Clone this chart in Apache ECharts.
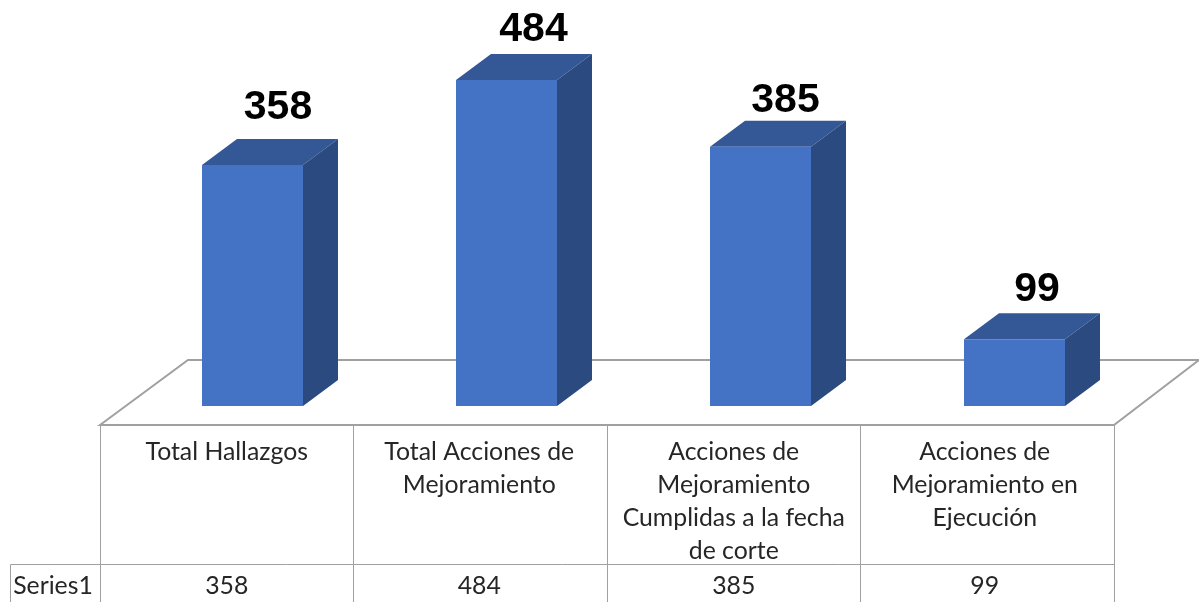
<!DOCTYPE html>
<html>
<head>
<meta charset="utf-8">
<style>html,body{margin:0;padding:0;background:#fff}#c{width:1199px;height:602px}</style>
<script src="https://cdn.jsdelivr.net/npm/echarts@6/dist/echarts.min.js"></script>
</head>
<body>
<div id="c"></div>
<script>
const categories = [
  "Total Hallazgos",
  "Total Acciones de\nMejoramiento",
  "Acciones de\nMejoramiento\nCumplidas a la fecha\nde corte",
  "Acciones de\nMejoramiento en\nEjecución"
];
const seriesName = "Series1";
const values = [358, 484, 385, 99];
const labelLift = [31.5, 24.5, 20.5, 23.5];
const labelShift = [25.5, 27, 25, 22.5];
const cellShift = [0, -1, 0, -2.5];

const TABLE_LEFT = 100, BAND = 253.5, DEPTH_X = 35, DEPTH_Y = 26, HALF_BAR = 50.5;
const FONT = 'Lato, Carlito, "Noto Sans", sans-serif';
const LINE = '#a0a0a0', TEXT = '#262626';
const FRONT = '#4472c4', SIDE = '#2b4a80', TOP = '#345796';

const chart = echarts.init(document.getElementById('c'), null, {renderer: 'canvas'});

const line = (x1, y1, x2, y2, w) => ({
  type: 'line', silent: true, z: 1,
  shape: {x1, y1, x2, y2},
  style: {stroke: LINE, lineWidth: w || 1}
});
const label = (text, x, y, lh) => ({
  type: 'text', silent: true, z: 3, x, y,
  style: {text, fill: TEXT, font: '24.8px ' + FONT, align: 'center', verticalAlign: 'top', lineHeight: lh || 33, textAlign: 'center'}
});

const graphics = [{
  type: 'polygon', silent: true, z: 0,
  shape: {points: [[100, 425], [188, 360], [1199, 360], [1114, 425]]},
  style: {fill: '#fff', stroke: LINE, lineWidth: 2}
}];
for (let i = 0; i <= categories.length; i++) {
  const x = Math.floor(TABLE_LEFT + i * BAND) + 0.5;
  graphics.push(line(x, 425, x, 602));
}
graphics.push(line(10.5, 564.5, 1114, 564.5));
graphics.push(line(10.5, 564.5, 10.5, 602));
graphics.push(line(100, 425, 1114, 425, 2));
graphics.push(label(seriesName, 53, 570));
categories.forEach((c, i) => {
  const cx = TABLE_LEFT + (i + 0.5) * BAND + cellShift[i];
  graphics.push(label(c, cx, 436));
  graphics.push(label(String(values[i]), cx, 570));
});

chart.setOption({
  animation: false,
  backgroundColor: '#fff',
  grid: {left: 125.5, width: 1016, top: 2, height: 404},
  xAxis: {type: 'category', data: categories, show: false},
  yAxis: {type: 'value', min: 0, max: 600, interval: 100, show: false},
  graphic: graphics,
  series: [{
    type: 'custom',
    name: seriesName,
    data: values.map((v, i) => [i, v]),
    encode: {x: 0, y: 1},
    clip: false,
    renderItem(params, api) {
      const i = api.value(0);
      const base = api.coord([i, 0]);
      const top = api.coord([i, api.value(1)]);
      const xl = base[0] - HALF_BAR, xr = base[0] + HALF_BAR;
      const yb = base[1], yt = top[1];
      return {
        type: 'group',
        children: [
          {type: 'polygon', shape: {points: [[xl, yt], [xl + DEPTH_X, yt - DEPTH_Y], [xr + DEPTH_X, yt - DEPTH_Y], [xr, yt]]}, style: {fill: TOP}},
          {type: 'polygon', shape: {points: [[xr, yb], [xr + DEPTH_X, yb - DEPTH_Y], [xr + DEPTH_X, yt - DEPTH_Y], [xr, yt]]}, style: {fill: SIDE}},
          {type: 'rect', shape: {x: xl, y: yt, width: xr - xl, height: yb - yt}, style: {fill: FRONT}},
          {type: 'text', x: base[0] + labelShift[i], y: yt - DEPTH_Y - labelLift[i],
            style: {text: String(api.value(1)), fill: '#000', font: 'bold 41px "Liberation Sans", Arial, sans-serif', align: 'center', verticalAlign: 'middle'}}
        ]
      };
    }
  }]
});
</script>
</body>
</html>
